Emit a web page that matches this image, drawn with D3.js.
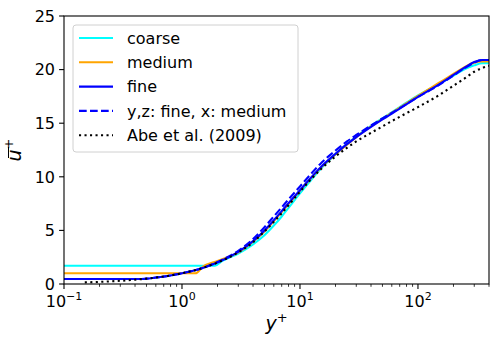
<!DOCTYPE html>
<html>
<head>
<meta charset="utf-8">
<script src="https://cdn.jsdelivr.net/npm/d3@7"></script>
<style>
  body { margin: 0; background: #fff; }
  svg { display: block; font-family: 'DejaVu Sans', sans-serif; }
</style>
</head>
<body>
<div id="chart"></div>
<script>
// mean velocity profiles
const coarseY = [0.1, 1.9, 2.2, 2.5, 3, 4, 5, 6, 7, 8, 10, 12, 15, 20, 25, 30, 40, 50, 70, 100, 150, 200, 250, 300, 350, 400];
const coarseU = [1.7, 1.7, 2.15, 2.45, 2.85, 3.7, 4.55, 5.45, 6.3, 7.1, 8.45, 9.5, 10.75, 12.1, 13.05, 13.75, 14.75, 15.45, 16.5, 17.6, 18.65, 19.45, 20.05, 20.4, 20.6, 20.6];

const mediumY = [0.1, 1.3, 1.5, 2, 3, 4, 5, 6, 7, 8, 10, 12, 15, 20, 25, 30, 40, 50, 70, 100, 150, 200, 250, 300, 350, 400];
const mediumU = [1.0, 1.0, 1.6, 2.15, 2.95, 3.95, 4.9, 5.85, 6.7, 7.45, 8.7, 9.7, 10.85, 12.1, 13.0, 13.7, 14.7, 15.4, 16.45, 17.55, 18.75, 19.6, 20.25, 20.65, 20.75, 20.75];

const fineY = [0.1, 0.45, 0.6, 0.8, 1, 1.5, 2, 3, 4, 5, 6, 7, 8, 10, 12, 15, 20, 25, 30, 40, 50, 70, 100, 150, 200, 250, 300, 350, 400];
const fineU = [0.47, 0.47, 0.6, 0.8, 1.0, 1.5, 2.0, 3.0, 4.0, 5.0, 5.95, 6.8, 7.55, 8.75, 9.75, 10.9, 12.15, 13.05, 13.7, 14.65, 15.35, 16.35, 17.45, 18.6, 19.5, 20.2, 20.7, 20.9, 20.9];

const mixedY = [0.1, 0.45, 0.6, 0.8, 1, 1.5, 2, 3, 4, 5, 6, 7, 8, 10, 12, 15, 20, 25, 30, 40, 50, 70, 100, 150, 200, 250, 300, 350, 400];
const mixedU = [0.47, 0.47, 0.6, 0.8, 1.0, 1.5, 2.05, 3.1, 4.2, 5.3, 6.3, 7.15, 7.9, 9.1, 10.1, 11.25, 12.45, 13.3, 13.9, 14.8, 15.45, 16.4, 17.45, 18.55, 19.45, 20.15, 20.65, 20.9, 20.9];

const abeY = [0.15, 0.2, 0.3, 0.5, 0.7, 1, 1.5, 2, 3, 4, 5, 6, 7, 8, 10, 12, 15, 20, 25, 30, 40, 50, 70, 100, 150, 200, 250, 300, 350, 400];
const abeU = [0.15, 0.2, 0.3, 0.5, 0.7, 1.0, 1.5, 2.0, 2.95, 3.9, 4.9, 5.8, 6.6, 7.35, 8.6, 9.6, 10.7, 11.9, 12.7, 13.3, 14.1, 14.7, 15.6, 16.5, 17.6, 18.5, 19.2, 19.8, 20.15, 20.35];

const yTicks = [0, 5, 10, 15, 20, 25];
const xTickExps = [-1, 0, 1, 2];

const series = [
  { name: 'coarse', ys: coarseY, us: coarseU, color: 'cyan', dash: null },
  { name: 'medium', ys: mediumY, us: mediumU, color: 'orange', dash: null },
  { name: 'fine', ys: fineY, us: fineU, color: 'blue', dash: null },
  { name: 'y,z: fine, x: medium', ys: mixedY, us: mixedU, color: 'blue', dash: '7.7,3.3' },
  { name: 'Abe et al. (2009)', ys: abeY, us: abeU, color: 'black', dash: '2.1,3.4' }
];

const width = 499, height = 347;
const margin = { left: 64, right: 10, top: 16, bottom: 63 };
const plotW = width - margin.left - margin.right;
const plotH = height - margin.top - margin.bottom;

const svg = d3.select('#chart').append('svg')
  .attr('width', width)
  .attr('height', height);

const x = d3.scaleLog().domain([0.1, 400]).range([0, plotW]);
const y = d3.scaleLinear().domain([0, 25]).range([plotH, 0]);

const plot = svg.append('g')
  .attr('transform', `translate(${margin.left}, ${margin.top})`);

plot.append('clipPath').attr('id', 'clip')
  .append('rect').attr('width', plotW).attr('height', plotH);

const line = d3.line()
  .x((d) => x(d[0]))
  .y((d) => y(d[1]))
  .curve(d3.curveMonotoneX);

plot.append('g').attr('clip-path', 'url(#clip)')
  .selectAll('path')
  .data(series)
  .join('path')
  .attr('d', (s) => line(d3.zip(s.ys, s.us)))
  .attr('fill', 'none')
  .attr('stroke', (s) => s.color)
  .attr('stroke-width', 2.1)
  .attr('stroke-dasharray', (s) => s.dash);

// axes
const xAxis = plot.append('g').attr('transform', `translate(0, ${plotH})`);
const minor = [];
for (let e = -1; e <= 2; e++) {
  for (let m = 2; m <= 9; m++) {
    const v = m * Math.pow(10, e);
    if (v <= 400) minor.push(v);
  }
}
xAxis.selectAll('line.minor').data(minor).join('line')
  .attr('class', 'minor')
  .attr('x1', (d) => x(d)).attr('x2', (d) => x(d))
  .attr('y1', 0).attr('y2', 2.8)
  .attr('stroke', '#000').attr('stroke-width', 0.8);
xAxis.selectAll('line.major').data(xTickExps).join('line')
  .attr('class', 'major')
  .attr('x1', (d) => x(Math.pow(10, d))).attr('x2', (d) => x(Math.pow(10, d)))
  .attr('y1', 0).attr('y2', 4.9)
  .attr('stroke', '#000').attr('stroke-width', 1.1);
const xLabels = xAxis.selectAll('text').data(xTickExps).join('text')
  .attr('x', (d) => x(Math.pow(10, d)))
  .attr('y', 23)
  .attr('text-anchor', 'middle')
  .attr('font-size', 16)
  .attr('fill', '#000');
xLabels.append('tspan').text('10');
xLabels.append('tspan')
  .attr('dy', -7)
  .attr('font-size', 11)
  .text((d) => (d < 0 ? '\u2212' + (-d) : String(d)));

const yAxis = plot.append('g');
yAxis.selectAll('line').data(yTicks).join('line')
  .attr('x1', -4.9).attr('x2', 0)
  .attr('y1', (d) => y(d)).attr('y2', (d) => y(d))
  .attr('stroke', '#000').attr('stroke-width', 1.1);
yAxis.selectAll('text').data(yTicks).join('text')
  .attr('x', -9)
  .attr('y', (d) => y(d))
  .attr('dy', '0.36em')
  .attr('text-anchor', 'end')
  .attr('font-size', 16)
  .attr('fill', '#000')
  .text((d) => d);

plot.append('rect')
  .attr('width', plotW).attr('height', plotH)
  .attr('fill', 'none').attr('stroke', '#000').attr('stroke-width', 1.1);

// axis labels
const xl = svg.append('text')
  .attr('x', margin.left + plotW / 2)
  .attr('y', 330)
  .attr('text-anchor', 'middle')
  .attr('font-size', 19)
  .attr('fill', '#000');
xl.append('tspan').attr('font-style', 'italic').text('y');
xl.append('tspan').attr('dy', -8).attr('font-size', 13).text('+');

const yl = svg.append('g')
  .attr('transform', `translate(21, ${margin.top + plotH / 2}) rotate(-90)`);
const ylt = yl.append('text')
  .attr('text-anchor', 'middle')
  .attr('font-size', 19)
  .attr('fill', '#000');
ylt.append('tspan').attr('font-style', 'italic').text('u');
ylt.append('tspan').attr('dy', -8).attr('font-size', 13).text('+');
yl.append('line')
  .attr('x1', -8).attr('x2', 3)
  .attr('y1', -12.5).attr('y2', -12.5)
  .attr('stroke', '#000').attr('stroke-width', 1);

// legend
const legend = svg.append('g').attr('transform', 'translate(73, 25)');
legend.append('rect')
  .attr('width', 225).attr('height', 127)
  .attr('rx', 3)
  .attr('fill', 'rgba(255,255,255,0.8)')
  .attr('stroke', '#d0d0d0').attr('stroke-width', 1);
const rows = legend.selectAll('g.row').data(series).join('g')
  .attr('class', 'row')
  .attr('transform', (d, i) => `translate(0, ${13 + i * 24.3})`);
rows.append('line')
  .attr('x1', 6).attr('x2', 40)
  .attr('stroke', (d) => d.color)
  .attr('stroke-width', 2.1)
  .attr('stroke-dasharray', (d) => d.dash);
rows.append('text')
  .attr('x', 54)
  .attr('dy', '0.36em')
  .attr('font-size', 16)
  .attr('fill', '#000')
  .text((d) => d.name);
</script>
</body>
</html>
